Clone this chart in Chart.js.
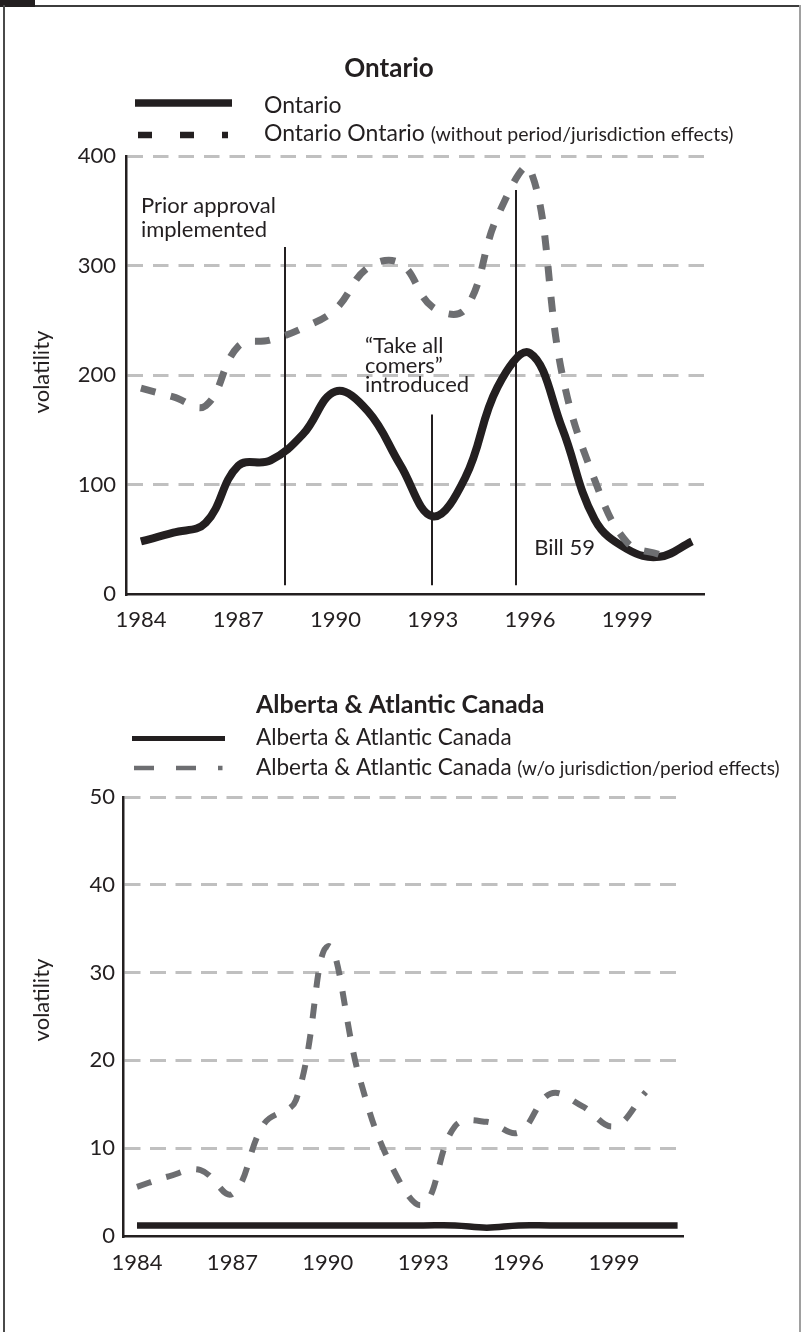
<!DOCTYPE html>
<html>
<head>
<meta charset="utf-8">
<script src="https://cdn.jsdelivr.net/npm/chart.js@4.4.1/dist/chart.umd.min.js"></script>
<style>
html,body{margin:0;padding:0;background:#fff;}
body{width:802px;height:1332px;position:relative;overflow:hidden;}
canvas{position:absolute;left:0;}
#c1{top:0;}
#c2{top:650px;}
.fb{position:absolute;left:0;top:0;width:35px;height:7px;background:#231f20;}
.ft{position:absolute;left:0;top:5px;width:801px;height:2px;background:#3c3c3c;}
.fl{position:absolute;left:3px;top:5px;width:2px;height:1327px;background:#4a4a4a;}
.fr{position:absolute;left:799px;top:5px;width:2px;height:1327px;background:#a0a0a0;}
</style>
</head>
<body>
<div class="ft"></div><div class="fb"></div><div class="fl"></div><div class="fr"></div>
<canvas id="c1" width="802" height="650" style="width:802px;height:650px"></canvas>
<canvas id="c2" width="802" height="682" style="width:802px;height:682px"></canvas>
<script>
// ---------- data ----------
const years = [1984,1985,1986,1987,1988,1989,1990,1991,1992,1993,1994,1995,1996,1997,1998,1999,2000,2001];
const xTickYears = [1984,1987,1990,1993,1996,1999];
const xTickLabels = ['1984','1987','1990','1993','1996','1999'];

const ontarioValues    = [48,56,65,117,122,146,185,167,118,71,106,189,220,151,68,41,34,48];
const ontarioAdjValues = [188,180,172,226,232,243,260,298,302,262,260,345,388,200,104,47,36,null];
const ontarioYTicks = [0,100,200,300,400];

const albertaValues    = [1.2,1.2,1.2,1.2,1.2,1.2,1.2,1.2,1.2,1.2,1.2,0.95,1.2,1.2,1.2,1.2,1.2,1.2];
const albertaAdjValues = [5.6,6.8,7.5,4.8,12.8,15.5,33,18,8,3.6,12.5,13,11.8,16.2,14.8,12.5,16.4,null];
const albertaYTicks = [0,10,20,30,40,50];

// ---------- styles ----------
const INK = '#231f20';
const GRAY = '#6d6e71';
const GRID = '#c0c0c0';
const FONT = "Lato, 'Open Sans', sans-serif";

function toPoints(vals){
  const out = [];
  vals.forEach((v,i)=>{ if(v!==null && v!==undefined) out.push({x:years[i], y:v}); });
  return out;
}

const decorPlugin = {
  id: 'decor',
  beforeDatasetsDraw(chart, args, o){
    const ctx = chart.ctx, xs = chart.scales.x, ys = chart.scales.y;
    ctx.save();
    (o.events||[]).forEach(ev=>{
      const x = Math.round(xs.getPixelForValue(ev.year));
      ctx.beginPath();
      ctx.lineWidth = 2;
      ctx.strokeStyle = INK;
      ctx.moveTo(x, ys.getPixelForValue(ev.from));
      ctx.lineTo(x, ys.getPixelForValue(ev.to));
      ctx.stroke();
    });
    ctx.fillStyle = INK;
    ctx.textAlign = 'left';
    ctx.textBaseline = 'alphabetic';
    (o.notes||[]).forEach(n=>{
      ctx.font = n.size + 'px ' + FONT;
      const x = xs.getPixelForValue(n.year);
      const y0 = ys.getPixelForValue(n.value);
      n.lines.forEach((t,i)=> ctx.fillText(t, x, y0 + i*n.lead));
    });
    ctx.restore();
  },
  afterDraw(chart, args, o){
    const ctx = chart.ctx;
    ctx.save();
    ctx.fillStyle = INK;
    ctx.textBaseline = 'alphabetic';
    if (o.title){
      ctx.font = 'bold ' + o.title.size + 'px ' + FONT;
      ctx.textAlign = o.title.align;
      ctx.fillText(o.title.text, o.title.x, o.title.y);
    }
    (o.legend||[]).forEach(l=>{
      ctx.save();
      ctx.beginPath();
      ctx.lineWidth = l.width;
      ctx.strokeStyle = l.color;
      ctx.lineCap = 'butt';
      ctx.setLineDash(l.dash);
      ctx.moveTo(l.x0, l.y);
      ctx.lineTo(l.x1, l.y);
      ctx.stroke();
      ctx.restore();
      ctx.textAlign = 'left';
      ctx.font = l.size + 'px ' + FONT;
      ctx.fillText(l.text, l.tx, l.ty);
      if (l.small){
        const w = ctx.measureText(l.text).width;
        ctx.font = l.smallSize + 'px ' + FONT;
        ctx.fillText(l.small, l.tx + w, l.ty);
      }
    });
    if (o.yTitle){
      ctx.save();
      ctx.translate(o.yTitle.x, o.yTitle.y);
      ctx.rotate(-Math.PI/2);
      ctx.font = o.yTitle.size + 'px ' + FONT;
      ctx.textAlign = 'center';
      ctx.textBaseline = 'middle';
      ctx.fillText(o.yTitle.text, 0, 0);
      ctx.restore();
    }
    ctx.restore();
  }
};

function makeChart(id, c){
  return new Chart(document.getElementById(id), {
    type: 'line',
    data: {
      datasets: [
        { label: c.adjLabel, data: toPoints(c.adj), borderColor: GRAY, borderWidth: c.adjWidth,
          borderDash: [15,16], borderCapStyle: 'butt', borderJoinStyle: 'round',
          pointRadius: 0, tension: 0.4, fill: false, order: 0 },
        { label: c.mainLabel, data: toPoints(c.main), borderColor: INK, borderWidth: c.mainWidth,
          borderCapStyle: 'butt', borderJoinStyle: 'round',
          pointRadius: 0, tension: 0.4, fill: false, order: 1 }
      ]
    },
    options: {
      responsive: false, animation: false, devicePixelRatio: 1,
      layout: { padding: { top: c.top, right: c.right, left: 0, bottom: 0 } },
      plugins: { legend: {display:false}, title: {display:false}, tooltip: {enabled:false}, decor: c.decor },
      scales: {
        x: {
          type: 'linear', bounds: 'data', min: c.xMin, max: c.xMax,
          afterBuildTicks: s => { s.ticks = xTickYears.map(v=>({value:v})); },
          afterFit: s => { s.height = c.xHeight; },
          grid: { display: false, drawTicks: false },
          border: { display: true, color: INK, width: 2.5 },
          ticks: { autoSkip: false, maxRotation: 0, padding: c.xPad, color: INK,
                   font: { family: FONT, size: 22 },
                   callback: v => xTickLabels[xTickYears.indexOf(v)] }
        },
        y: {
          type: 'linear', bounds: 'data', min: 0, max: c.yTicks[c.yTicks.length-1],
          afterBuildTicks: s => { s.ticks = c.yTicks.map(v=>({value:v})); },
          afterFit: s => { s.width = c.yWidth; },
          grid: { drawTicks: false, lineWidth: 3,
                  color: ctx => (ctx.tick && ctx.tick.value === 0) ? 'rgba(0,0,0,0)' : GRID },
          border: { display: true, color: INK, width: 2.5, dash: c.gridDash },
          ticks: { padding: c.yPad, color: INK, font: { family: FONT, size: 22 },
                   callback: v => String(v) }
        }
      }
    },
    plugins: [decorPlugin]
  });
}

makeChart('c1', {
  main: ontarioValues, adj: ontarioAdjValues,
  mainLabel: 'Ontario', adjLabel: 'Ontario Ontario (without period/jurisdiction effects)',
  mainWidth: 8, adjWidth: 7,
  yTicks: ontarioYTicks,
  xMin: 1983.54, xMax: 2001.37,
  top: 156, right: 98, yWidth: 126, xHeight: 56, xPad: 13, yPad: 10,
  gridDash: [15.5, 10],
  decor: {
    title: { text: 'Ontario', x: 389, y: 77, size: 26, align: 'center' },
    legend: [
      { x0: 135, x1: 232, y: 103, width: 7.3, color: INK, dash: [], tx: 264, ty: 113, size: 23, text: 'Ontario' },
      { x0: 138, x1: 228, y: 135, width: 6.5, color: INK, dash: [14,28], tx: 264, ty: 141, size: 23,
        text: 'Ontario Ontario ', small: '(without period/jurisdiction effects)', smallSize: 19.5 }
    ],
    yTitle: { text: 'volatility', x: 42, y: 372, size: 22 },
    events: [
      { year: 1988.46, from: 8, to: 317 },
      { year: 1992.97, from: 8, to: 164 },
      { year: 1995.57, from: 8, to: 369 }
    ],
    notes: [
      { lines: ['Prior approval','implemented'], year: 1984, value: 348, size: 22, lead: 24 },
      { lines: ['\u201cTake all','comers\u201d','introduced'], year: 1990.91, value: 220, size: 22, lead: 19.5 },
      { lines: ['Bill 59'], year: 1996.13, value: 35.6, size: 22, lead: 20 }
    ]
  }
});

makeChart('c2', {
  main: albertaValues, adj: albertaAdjValues,
  mainLabel: 'Alberta & Atlantic Canada', adjLabel: 'Alberta & Atlantic Canada (w/o jurisdiction/period effects)',
  mainWidth: 6.5, adjWidth: 6,
  yTicks: albertaYTicks,
  xMin: 1983.56, xMax: 2001.17,
  top: 147, right: 119, yWidth: 123, xHeight: 96, xPad: 14, yPad: 8,
  gridDash: [16, 9.5],
  decor: {
    title: { text: 'Alberta & Atlantic Canada', x: 256, y: 63, size: 25, align: 'left' },
    legend: [
      { x0: 132, x1: 225, y: 88.5, width: 5, color: INK, dash: [], tx: 256, ty: 94.5, size: 22.5, text: 'Alberta & Atlantic Canada' },
      { x0: 134, x1: 222.5, y: 118, width: 4.5, color: GRAY, dash: [20,22], tx: 256, ty: 124.5, size: 22.5,
        text: 'Alberta & Atlantic Canada ', small: '(w/o jurisdiction/period effects)', smallSize: 19 }
    ],
    yTitle: { text: 'volatility', x: 42, y: 350, size: 22 },
    events: [], notes: []
  }
});
</script>
</body>
</html>
